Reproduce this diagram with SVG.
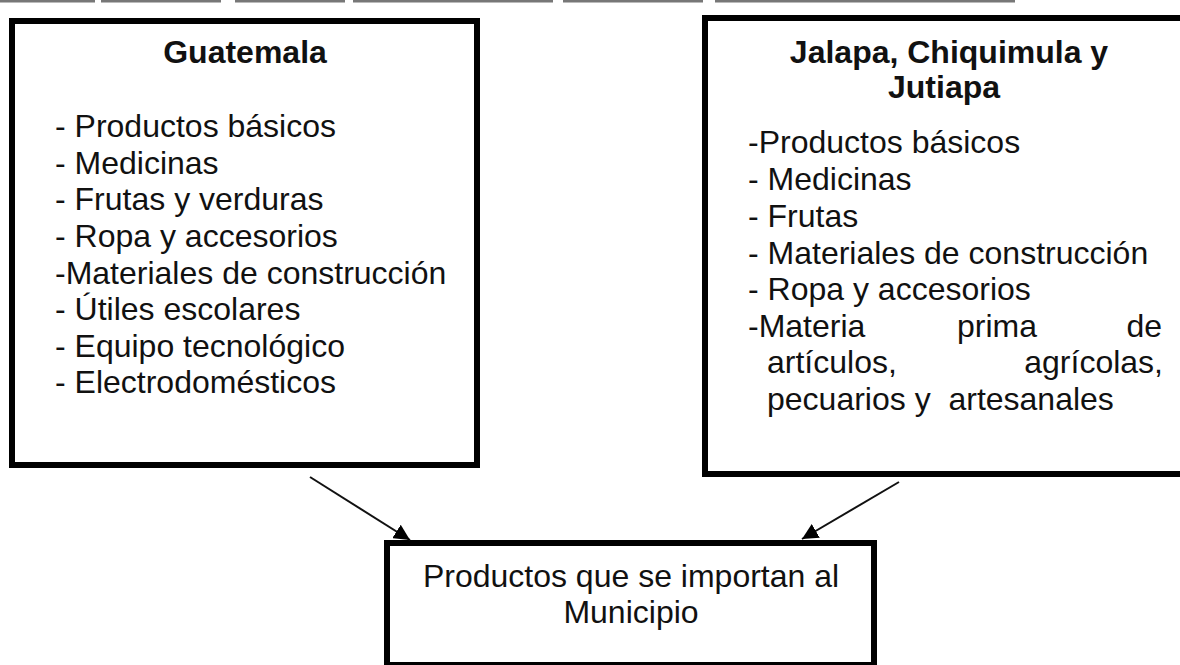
<svg xmlns="http://www.w3.org/2000/svg" width="1180" height="665" viewBox="0 0 1180 665">
  <style>
    .box { fill: #ffffff; stroke: #000000; stroke-width: 6; }
    .t { font-family: "Liberation Sans", Arial, Helvetica, sans-serif; font-size: 32px; fill: #111111; }
    .b { font-weight: bold; }
    .c { text-anchor: middle; }
    .e { text-anchor: end; }
    .conn { stroke: #111111; stroke-width: 2; fill: none; marker-end: url(#ah); }
  </style>
  <defs>
    <marker id="ah" viewBox="0 0 10 10" refX="10" refY="5" markerWidth="16" markerHeight="16" markerUnits="userSpaceOnUse" orient="auto">
      <path d="M0,0 L10,5 L0,10 z" fill="#000000"/>
    </marker>
  </defs>
  <rect x="0" y="0" width="1180" height="665" fill="#ffffff"/>
  <line x1="0" y1="1" x2="1060" y2="1" stroke="#777777" stroke-width="3" stroke-dasharray="95 6 120 14 110 8 200 10 140 12 300"/>

  <g id="node-guatemala">
    <rect class="box" x="12" y="21" width="465" height="444"/>
    <text class="t b c" x="245" y="63">Guatemala</text>
    <text class="t" x="55" y="137">- Productos básicos</text>
    <text class="t" x="55" y="174">- Medicinas</text>
    <text class="t" x="55" y="210">- Frutas y verduras</text>
    <text class="t" x="55" y="247">- Ropa y accesorios</text>
    <text class="t" x="55" y="284">-Materiales de construcción</text>
    <text class="t" x="55" y="320">- Útiles escolares</text>
    <text class="t" x="55" y="357">- Equipo tecnológico</text>
    <text class="t" x="55" y="393">- Electrodomésticos</text>
  </g>

  <g id="node-jalapa">
    <rect class="box" x="705" y="18" width="481" height="456"/>
    <text class="t b c" x="949" y="63">Jalapa, Chiquimula y</text>
    <text class="t b c" x="944" y="98">Jutiapa</text>
    <text class="t" x="748" y="153">-Productos básicos</text>
    <text class="t" x="748" y="190">- Medicinas</text>
    <text class="t" x="748" y="227">- Frutas</text>
    <text class="t" x="748" y="264">- Materiales de construcción</text>
    <text class="t" x="748" y="300">- Ropa y accesorios</text>
    <text class="t" x="748" y="337">-Materia</text>
    <text class="t" x="957" y="337">prima</text>
    <text class="t e" x="1162" y="337">de</text>
    <text class="t" x="767" y="373">artículos,</text>
    <text class="t e" x="1163" y="373">agrícolas,</text>
    <text class="t" x="767" y="410" xml:space="preserve">pecuarios y  artesanales</text>
  </g>

  <g id="node-municipio">
    <rect class="box" x="387" y="543" width="487" height="122"/>
    <text class="t c" x="631" y="587">Productos que se importan al</text>
    <text class="t c" x="631" y="623">Municipio</text>
  </g>

  <g id="connectors">
    <line class="conn" x1="310" y1="477" x2="410" y2="540"/>
    <line class="conn" x1="899" y1="482" x2="802" y2="539"/>
  </g>
</svg>
